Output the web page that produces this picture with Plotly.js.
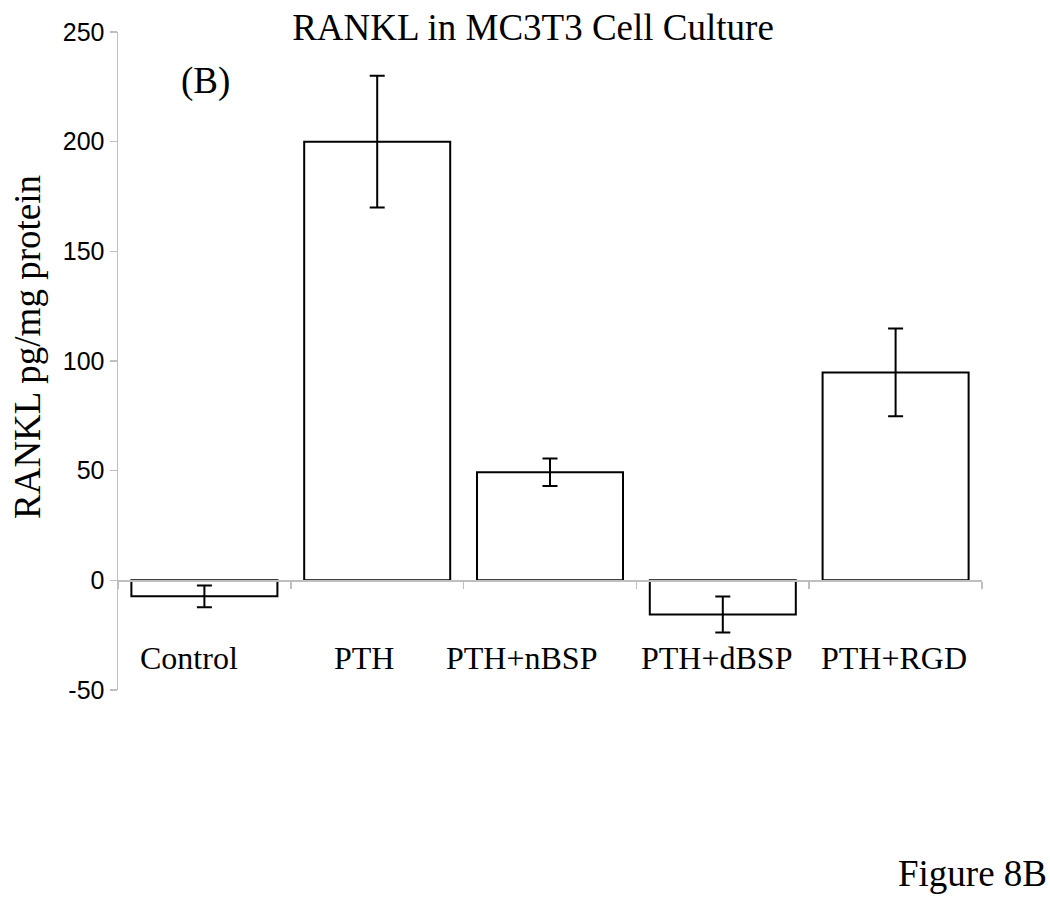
<!DOCTYPE html>
<html>
<head>
<meta charset="utf-8">
<script src="https://cdn.plot.ly/plotly-3.0.1.min.js"></script>
<style>html,body{margin:0;padding:0;background:#fff;}#chart{width:1050px;height:897px;}</style>
</head>
<body>
<div id="chart"></div>
<script>
const categories = ["Control", "PTH", "PTH+nBSP", "PTH+dBSP", "PTH+RGD"];
const values = [-7.3, 200, 49.3, -15.6, 94.8];
const errors = [5, 30, 6.3, 8.2, 20];
const yTicks = [-50, 0, 50, 100, 150, 200, 250];
const labelShift = [-15, -13, -29, -6, -2];

const serif = "Liberation Serif, Times New Roman, serif";
const sans = "Liberation Sans, Arial, sans-serif";

// plot area in pixels (for placing free texts)
const L = 118, R = 982, T = 32, B = 690;
const px = x => (x - L) / (R - L);
const py = y => (B - y) / (B - T);

const trace = {
  type: "bar",
  x: categories,
  y: values,
  marker: {color: "#ffffff", line: {color: "#000000", width: 2}},
  error_y: {type: "data", array: errors, visible: true, color: "#000000", thickness: 2, width: 7.5},
  hoverinfo: "none"
};

const annotations = categories.map((c, i) => ({
  x: c, y: -35.6, xref: "x", yref: "y", text: c, showarrow: false,
  xanchor: "center", yanchor: "middle", xshift: labelShift[i],
  font: {family: serif, size: 32, color: "#000"}
}));
annotations.push({
  x: px(205), y: py(81), xref: "paper", yref: "paper", text: "(B)", showarrow: false,
  xanchor: "center", yanchor: "middle", font: {family: serif, size: 37, color: "#000"}
});
annotations.push({
  x: px(972), y: py(873), xref: "paper", yref: "paper", text: "Figure 8B", showarrow: false,
  xanchor: "center", yanchor: "middle", font: {family: serif, size: 37, color: "#000"}
});
annotations.push({
  x: px(27), y: py(347), xref: "paper", yref: "paper", text: "RANKL pg/mg protein", showarrow: false,
  textangle: -90, xanchor: "center", yanchor: "middle", font: {family: serif, size: 37, color: "#000"}
});

const layout = {
  width: 1050, height: 897,
  margin: {l: L, r: 1050 - R, t: T, b: 897 - B},
  paper_bgcolor: "#fff", plot_bgcolor: "#fff",
  showlegend: false,
  bargap: 0.155,
  title: {
    text: "RANKL in MC3T3 Cell Culture",
    font: {family: serif, size: 37, color: "#000"},
    x: 533 / 1050, xref: "container", xanchor: "center",
    y: 1 - 27 / 897, yanchor: "middle", yref: "container"
  },
  xaxis: {
    type: "category",
    anchor: "free", position: 1 / 6,
    showline: true, linecolor: "#bfbfbf", linewidth: 1.5,
    tickson: "boundaries", ticks: "outside", ticklen: 7, tickcolor: "#bfbfbf", tickwidth: 1.5,
    showticklabels: false, showgrid: false, zeroline: false
  },
  yaxis: {
    range: [-50, 250], tickvals: yTicks, ticktext: yTicks.map(String),
    showline: true, linecolor: "#bfbfbf", linewidth: 1.5,
    ticks: "outside", ticklen: 7, tickcolor: "#bfbfbf", tickwidth: 1.5,
    showgrid: false, zeroline: false,
    tickfont: {family: sans, size: 25, color: "#000"}
  },
  annotations: annotations
};

Plotly.newPlot("chart", [trace], layout, {displayModeBar: false, staticPlot: true});
</script>
</body>
</html>
